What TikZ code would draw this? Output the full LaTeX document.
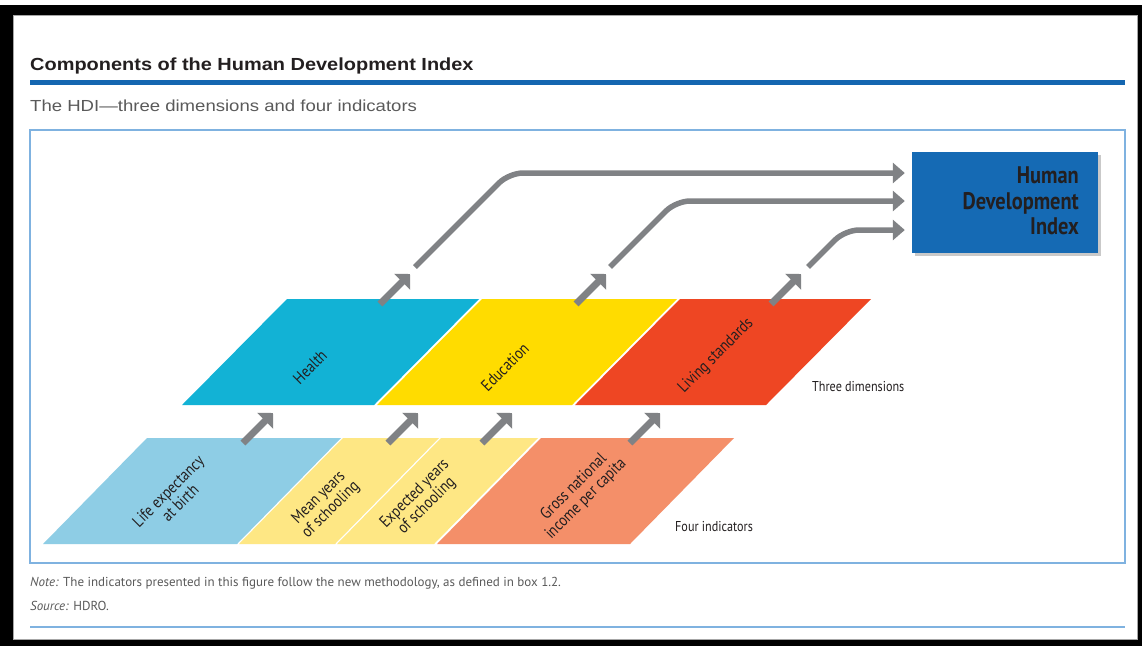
\documentclass[tikz,border=0pt]{standalone}
\usepackage{fontspec}
\setmainfont{Liberation Sans}
\newfontfamily\condf[FakeStretch=0.85]{PT Sans}
\newfontfamily\footf{PT Sans}
\newfontfamily\titlef[FakeStretch=1.14]{Liberation Sans}
\newfontfamily\subf[FakeStretch=1.16]{Liberation Sans}
\usetikzlibrary{arrows.meta,shadows,calc}
\definecolor{rulebl}{HTML}{1466B0}
\definecolor{framebl}{HTML}{7FB2E0}
\definecolor{hdibl}{HTML}{156AB4}
\definecolor{arrg}{HTML}{808285}
\definecolor{healthc}{HTML}{12B2D5}
\definecolor{educc}{HTML}{FFDC00}
\definecolor{livingc}{HTML}{EE4623}
\definecolor{lifec}{HTML}{8ECDE5}
\definecolor{schoolc}{HTML}{FEE784}
\definecolor{gnic}{HTML}{F48F69}
\definecolor{txt}{HTML}{231F20}
\definecolor{greytxt}{HTML}{5A5A5A}
\begin{document}
\begin{tikzpicture}[x=1pt,y=-1pt,
  lbl/.style={font=\condf\fontsize{16.5}{17}\selectfont, text=txt, rotate=45, align=center, inner sep=0},
  side/.style={font=\condf\fontsize{14.3}{15}\selectfont, text=txt, inner sep=0},
  smallarr/.style={draw=arrg, line width=7pt, -{Triangle[length=11pt,width=22pt]}},
  longarr/.style={draw=arrg, line width=5.5pt, rounded corners=14pt, -{Triangle[length=12pt,width=20pt]}},
  foot/.style={font=\footf\fontsize{13}{15}\selectfont, text=greytxt, anchor=base west, inner sep=0}
]
\useasboundingbox (0,0) rectangle (1142,646);
% page frame
\fill[white] (0,0) rectangle (1142,646);
\fill[black] (0,5) rectangle (1142,646);
\fill[white] (13,15) rectangle (1138,640);
\draw[black!35, line width=0.6pt] (13.3,15.3) rectangle (1137.7,639.7);

% title block
\node[anchor=base west, inner sep=0, font=\titlef\bfseries\fontsize{17.5}{19}\selectfont, text=txt] (title) at (30,70) {Components of the Human Development Index};
\draw[rulebl, line width=5pt] (30,82.5) -- (1125,82.5);
\node[anchor=base west, inner sep=0, font=\subf\fontsize{16}{18}\selectfont, text=greytxt] (subtitle) at (30,111) {The HDI—three dimensions and four indicators};
\draw[framebl, line width=1.3pt] (30,130) rectangle (1125,563);

% three dimensions
\fill[healthc] (182,405) -- (374,405) -- (479,299) -- (287,299) -- cycle;
\fill[educc] (377,405) -- (572,405) -- (677,299) -- (482,299) -- cycle;
\fill[livingc] (575,405) -- (766,405) -- (871,299) -- (680,299) -- cycle;
\node[lbl] (health) at (310,367) {Health};
\node[lbl] (educ) at (505,367) {Education};
\node[lbl] (living) at (716,356) {Living standards};
\node[side, anchor=west] (threedim) at (812,387) {Three dimensions};

% four indicators
\fill[lifec] (43,544) -- (237,544) -- (341,438) -- (147,438) -- cycle;
\fill[schoolc] (239,544) -- (335,544) -- (439,438) -- (343,438) -- cycle;
\fill[schoolc] (337,544) -- (434,544) -- (538,438) -- (441,438) -- cycle;
\fill[gnic] (437,544) -- (630,544) -- (734,438) -- (541,438) -- cycle;
\node[lbl] (life) at (174,497) {Life expectancy\\at birth};
\node[lbl] (mean) at (325,504) {Mean years\\of schooling};
\node[lbl] (expected) at (421,500) {Expected years\\of schooling};
\node[lbl] (gni) at (580,493) {Gross national\\income per capita};
\node[side, anchor=west] (fourind) at (675,527) {Four indicators};

% small arrows
\coordinate (l1s) at (243,443); \coordinate (l1e) at (273,413);
\coordinate (l2s) at (388,443); \coordinate (l2e) at (418,413);
\coordinate (l3s) at (482,443); \coordinate (l3e) at (512,413);
\coordinate (l4s) at (630,443); \coordinate (l4e) at (660,413);
\coordinate (u1s) at (380,304); \coordinate (u1e) at (410,274);
\coordinate (u2s) at (576,304); \coordinate (u2e) at (606,274);
\coordinate (u3s) at (771,304); \coordinate (u3e) at (801,274);
\foreach \a in {l1,l2,l3,l4,u1,u2,u3} \draw[smallarr] (\a s) -- (\a e);

% HDI box
\node[fill=hdibl, minimum width=186pt, minimum height=101pt, inner sep=0,
  drop shadow={shadow xshift=3pt, shadow yshift=-3pt, opacity=0.35, fill=black!60}] (hdi) at (1005,202.5) {};
\node[anchor=east, align=right, inner sep=0, font=\condf\bfseries\fontsize{24}{25.5}\selectfont, text=txt] (hditext) at (1079,201) {Human\\Development\\Index};

% long arrows
\coordinate (h0) at (415,267);
\coordinate (e0) at (610,267);
\coordinate (s0) at (808,267);
\draw[longarr] (h0) -- (509,173) -- ($(hdi.west |- 0,173)+(-7,0)$);
\draw[longarr] (e0) -- (676,201) -- ($(hdi.west |- 0,201)+(-7,0)$);
\draw[longarr] (s0) -- (845,230) -- ($(hdi.west |- 0,230)+(-7,0)$);

% footnotes
\node[foot] (note) at (30,586) {\itshape Note:\upshape{} The indicators presented in this figure follow the new methodology, as defined in box 1.2.};
\node[foot] (source) at (30,610) {\itshape Source:\upshape{} HDRO.};
\draw[framebl, line width=2pt] (30,627) -- (1125,627);
\end{tikzpicture}
\end{document}
